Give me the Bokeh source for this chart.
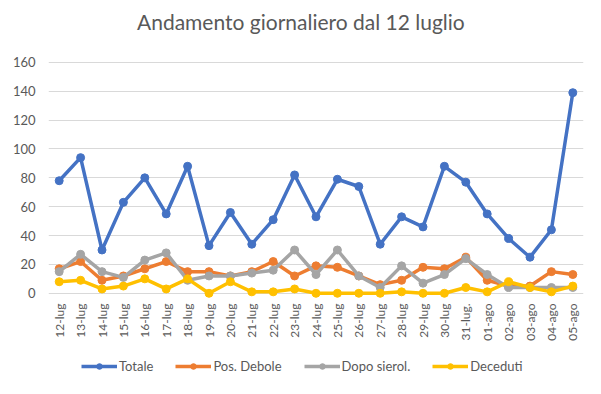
from bokeh.plotting import figure
from bokeh.models import Range1d, FactorRange, Legend, LegendItem, FixedTicker, Div
from bokeh.layouts import column
from bokeh.embed import file_html
from bokeh.resources import INLINE
import math

dates = ["12-lug", "13-lug", "14-lug", "15-lug", "16-lug", "17-lug", "18-lug",
         "19-lug", "20-lug", "21-lug", "22-lug", "23-lug", "24-lug", "25-lug",
         "26-lug", "27-lug", "28-lug", "29-lug", "30-lug", "31-lug.", "01-ago",
         "02-ago", "03-ago", "04-ago", "05-ago"]
totale = [78, 94, 30, 63, 80, 55, 88, 33, 56, 34, 51, 82, 53, 79, 74, 34, 53,
          46, 88, 77, 55, 38, 25, 44, 139]
pos_debole = [17, 22, 9, 12, 17, 22, 15, 15, 12, 15, 22, 12, 19, 18, 12, 6, 9,
              18, 17, 25, 9, 5, 5, 15, 13]
dopo_sierol = [15, 27, 15, 11, 23, 28, 9, 12, 12, 14, 16, 30, 13, 30, 12, 4,
               19, 7, 13, 24, 13, 4, 4, 4, 4]
deceduti = [8, 9, 3, 5, 10, 3, 10, 0, 8, 1, 1, 3, 0, 0, 0, 0, 1, 0, 0, 4, 1,
            8, 4, 1, 5]
y_ticks = [0, 20, 40, 60, 80, 100, 120, 140, 160]
title_text = "Andamento giornaliero dal 12 luglio"

series = [("Totale", totale, "#4472C4"),
          ("Pos. Debole", pos_debole, "#ED7D31"),
          ("Dopo sierol.", dopo_sierol, "#A5A5A5"),
          ("Deceduti", deceduti, "#FFC000")]

FONT = "Lato"
TXT = "#595959"

# ---- title ----
title = Div(text=('<div style="font-family: Lato; font-size: 21px; color: #595959; '
                  'line-height: 44px; height: 44px; padding-left: 137px; '
                  'white-space: nowrap;">' + title_text + '</div>'),
            width=585, height=44,
            styles={"margin": "0", "padding": "0"})

# ---- main chart ----
p = figure(x_range=FactorRange(factors=dates), y_range=Range1d(-5, 162),
           width=585, height=304, output_backend="svg", toolbar_location=None,
           min_border_left=48, min_border_right=2, min_border_top=15,
           min_border_bottom=48)

p.outline_line_color = None
p.background_fill_color = "white"
p.border_fill_color = "white"

p.xgrid.grid_line_color = None
p.ygrid.grid_line_color = "#D9D9D9"
p.ygrid.grid_line_width = 1

p.yaxis.ticker = FixedTicker(ticks=y_ticks)
p.yaxis.axis_line_color = None
p.yaxis.major_tick_line_color = None
p.yaxis.major_tick_out = 0
p.yaxis.major_tick_in = 0
p.yaxis.minor_tick_line_color = None
p.yaxis.major_label_text_font = FONT
p.yaxis.major_label_text_font_size = "13px"
p.yaxis.major_label_text_color = TXT
p.yaxis.major_label_standoff = 13

p.xaxis.axis_line_color = None
p.xaxis.major_tick_line_color = None
p.xaxis.major_tick_out = 0
p.xaxis.major_tick_in = 0
p.xaxis.minor_tick_line_color = None
p.xaxis.major_label_orientation = math.pi / 2
p.xaxis.major_label_text_font = FONT
p.xaxis.major_label_text_font_size = "12px"
p.xaxis.major_label_text_color = TXT
p.xaxis.major_label_standoff = 3

for name, vals, col in series:
    p.line(dates, vals, line_color=col, line_width=3.5, line_join="round")
    p.scatter(dates, vals, size=8, fill_color=col, line_color=col)

# ---- legend strip (same series, kept out of view; only the legend shows) ----
lg = figure(x_range=FactorRange(factors=dates), y_range=Range1d(1000, 1001),
            width=585, height=30, output_backend="svg", toolbar_location=None,
            min_border=0, x_axis_type=None, y_axis_type=None)
lg.outline_line_color = None
lg.xgrid.grid_line_color = None
lg.ygrid.grid_line_color = None

items = []
for name, vals, col in series:
    l = lg.line(dates, vals, line_color=col, line_width=3.5)
    s = lg.scatter(dates, vals, size=8, fill_color=col, line_color=col)
    items.append(LegendItem(label=name, renderers=[l, s]))

legend = Legend(items=items, orientation="horizontal", location=(33, 4),
                border_line_color=None, background_fill_alpha=0,
                glyph_width=36, glyph_height=14, label_standoff=2, spacing=22,
                padding=0, margin=0,
                label_text_font=FONT, label_text_font_size="13px",
                label_text_color=TXT)
lg.add_layout(legend)

layout = column(title, p, lg, spacing=0)
open("out.html", "w").write(file_html(layout, INLINE))
